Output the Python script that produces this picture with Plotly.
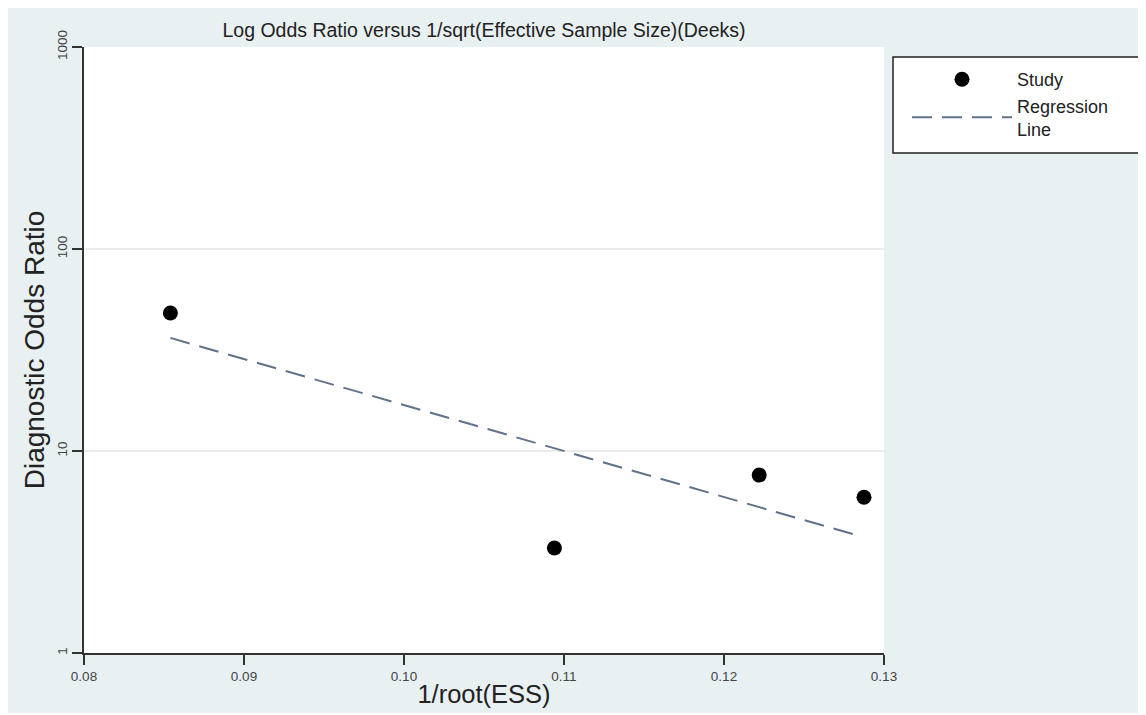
import plotly.graph_objects as go

# Data
study_x = [0.0854, 0.1094, 0.1222, 0.12875]
study_dor = [48.2, 3.31, 7.6, 5.9]
reg_x = [0.0854, 0.1285]
reg_dor = [36.3, 3.79]
x_ticks = [0.08, 0.09, 0.10, 0.11, 0.12, 0.13]
x_tick_labels = ["0.08", "0.09", "0.10", "0.11", "0.12", "0.13"]
y_ticks = [1, 10, 100, 1000]
y_tick_labels = ["1", "10", "100", "1000"]

# the page body adds an 8px offset; work in figure pixels
OFF = 8
W, H = 1146 - OFF, 705
L, R, T, B = 84 - OFF, 884 - OFF, 47 - OFF, 653 - OFF  # plot area box


def px_x(p):  # reference-screen x -> paper
    return (p - OFF - L) / (R - L)


def px_y(p):  # reference-screen y -> paper
    return (B - (p - OFF)) / (B - T)


FONT = "Liberation Sans, Arial, sans-serif"

fig = go.Figure()
fig.add_trace(go.Scatter(
    x=study_x, y=study_dor, mode="markers", name="Study",
    marker=dict(color="black", size=15, symbol="circle"),
))
fig.add_trace(go.Scatter(
    x=reg_x, y=reg_dor, mode="lines", name="Regression<br>Line",
    line=dict(color="#5f728a", width=2, dash="20px,10px"),
))

shapes = [
    # white plot area
    dict(type="rect", xref="paper", yref="paper", layer="below",
         x0=0, x1=1, y0=0, y1=1, fillcolor="white", line=dict(width=0)),
    # legend box
    dict(type="rect", xref="paper", yref="paper", layer="below",
         x0=px_x(893), x1=px_x(1144), y0=px_y(153), y1=px_y(57),
         fillcolor="white", line=dict(width=0)),
    dict(type="rect", xref="paper", yref="paper", layer="above",
         x0=px_x(893), x1=px_x(1144), y0=px_y(153), y1=px_y(57),
         fillcolor="rgba(255,255,255,0)", line=dict(color="#222", width=1.5)),
]

fig.update_layout(
    width=W, height=H,
    margin=dict(l=L, r=W - R, t=T, b=H - B, pad=0, autoexpand=False),
    paper_bgcolor="#e9f0f2",
    plot_bgcolor="rgba(0,0,0,0)",
    font=dict(family=FONT, color="#333"),
    title=dict(
        text="Log Odds Ratio versus 1/sqrt(Effective Sample Size)(Deeks)",
        x=(484 - OFF) / W, xanchor="center", y=1 - (30 - OFF) / H, yanchor="middle",
        font=dict(size=19.5, color="#222", family=FONT),
    ),
    showlegend=True,
    legend=dict(
        x=px_x(907), xanchor="left", y=px_y(61), yanchor="top",
        bgcolor="rgba(0,0,0,0)", borderwidth=0,
        itemwidth=100,
        font=dict(size=18, color="#222", family=FONT),
        tracegroupgap=2,
    ),
    shapes=shapes,
    xaxis=dict(
        automargin=False,
        range=[0.08, 0.13], tickvals=x_ticks, ticktext=x_tick_labels,
        showgrid=False, zeroline=False,
        showline=True, linecolor="#333", linewidth=2,
        ticks="outside", ticklen=10, tickwidth=2, tickcolor="#333",
        tickfont=dict(size=13.5, color="#444"),
        title=dict(text="1/root(ESS)", font=dict(size=25.5, color="#222"), standoff=2),
    ),
    yaxis=dict(
        automargin=False,
        type="log", range=[0, 3], tickvals=y_ticks, ticktext=y_tick_labels,
        tickangle=-90,
        showgrid=True, gridcolor="#ebebeb", gridwidth=2,
        zeroline=False,
        showline=True, linecolor="#333", linewidth=2,
        ticks="outside", ticklen=10, tickwidth=2, tickcolor="#333",
        tickfont=dict(size=13.5, color="#444"),
        title=dict(text="Diagnostic Odds Ratio", font=dict(size=28, color="#222"),
                   standoff=2),
    ),
)

fig.write_html("out.html")
